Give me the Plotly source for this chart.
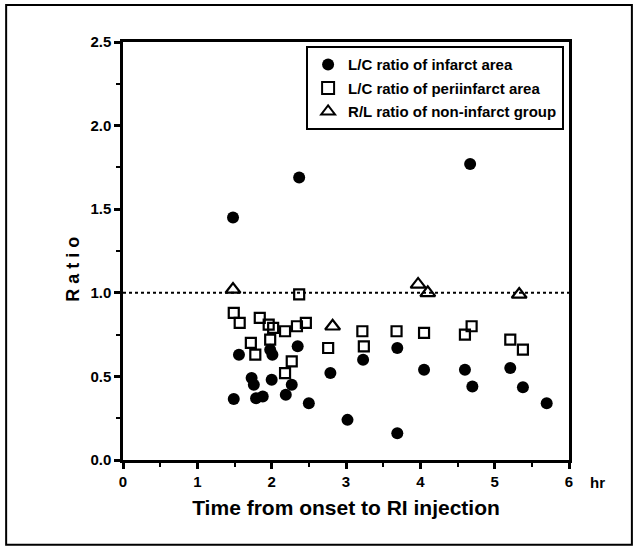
import plotly.graph_objects as go

# Data (hours, ratio)
infarct_x = [1.48, 2.37, 4.67, 1.56, 1.98, 2.01, 2.35, 1.73, 1.76, 2.00, 2.27, 2.79,
             1.49, 1.79, 1.88, 2.19, 2.50, 3.02, 3.23, 3.69, 3.69, 4.05, 4.60, 4.70,
             5.21, 5.38, 5.70]
infarct_y = [1.45, 1.69, 1.77, 0.63, 0.66, 0.63, 0.68, 0.49, 0.45, 0.48, 0.45, 0.52,
             0.365, 0.37, 0.38, 0.39, 0.34, 0.24, 0.60, 0.67, 0.16, 0.54, 0.54, 0.44,
             0.55, 0.435, 0.34]

peri_x = [1.49, 1.57, 1.84, 1.96, 2.02, 2.18, 2.34, 2.46, 1.72, 1.98, 1.78, 2.27,
          2.18, 2.76, 2.37, 3.22, 3.24, 3.68, 4.05, 4.60, 4.69, 5.21, 5.38]
peri_y = [0.88, 0.82, 0.85, 0.81, 0.79, 0.77, 0.80, 0.82, 0.70, 0.72, 0.63, 0.59,
          0.52, 0.67, 0.99, 0.77, 0.68, 0.77, 0.76, 0.75, 0.80, 0.72, 0.66]

noninf_x = [1.48, 2.82, 3.97, 4.10, 5.33]
noninf_y = [1.02, 0.80, 1.05, 1.00, 0.99]

ref_level = 1.0
x_ticks = [0, 1, 2, 3, 4, 5, 6]
y_ticks = [0.0, 0.5, 1.0, 1.5, 2.0, 2.5]

FONT = "Liberation Sans, Arial, sans-serif"

fig = go.Figure()
fig.add_trace(go.Scatter(
    x=infarct_x, y=infarct_y, mode="markers", name="L/C ratio of infarct area",
    legendgroup="a",
    marker=dict(symbol="circle", size=12, color="black"),
))
fig.add_trace(go.Scatter(
    x=peri_x, y=peri_y, mode="markers", name="L/C ratio of periinfarct area",
    legendgroup="b",
    marker=dict(symbol="square-open", size=10, color="black", line=dict(width=2.2, color="black")),
))
fig.add_trace(go.Scatter(
    x=noninf_x, y=noninf_y, mode="markers", name="R/L ratio of non-infarct group",
    legendgroup="c",
    marker=dict(symbol="triangle-up-open", size=13, color="black", line=dict(width=2.2, color="black")),
))

fig.add_shape(type="line", xref="x", yref="y", x0=0, x1=6, y0=ref_level, y1=ref_level,
              line=dict(color="black", width=2, dash="dot"), layer="below")

# outer frame
fig.add_shape(type="rect", xref="paper", yref="paper",
              x0=-0.262, x1=1.141, y0=-0.203, y1=1.0885,
              line=dict(color="black", width=2))

fig.update_layout(
    width=637, height=550,
    margin=dict(l=123, r=68, t=42, b=90),
    paper_bgcolor="white", plot_bgcolor="white",
    font=dict(family=FONT, color="black"),
    showlegend=True,
    legend=dict(
        x=0.989, y=0.99, xanchor="right", yanchor="top",
        bgcolor="white", bordercolor="black", borderwidth=2,
        font=dict(family=FONT, size=15, color="black", weight="bold"),
        itemsizing="constant", tracegroupgap=1,
    ),
    xaxis=dict(
        range=[0, 6], tickvals=x_ticks, ticktext=[str(v) for v in x_ticks],
        showgrid=False, zeroline=False,
        showline=True, linecolor="black", linewidth=2.5, mirror=True,
        ticks="outside", ticklen=6, tickwidth=2.5, tickcolor="black",
        minor=dict(dtick=0.5, ticks="outside", ticklen=4, tickwidth=2, tickcolor="black"),
        tickfont=dict(family=FONT, size=15, color="black", weight="bold"),
        title=dict(text="Time from onset to RI injection",
                   font=dict(family=FONT, size=21, color="black", weight="bold"),
                   standoff=12),
    ),
    yaxis=dict(
        range=[0, 2.5], tickvals=y_ticks, ticktext=[f"{v:.1f}" for v in y_ticks],
        showgrid=False, zeroline=False,
        showline=True, linecolor="black", linewidth=2.5, mirror=True,
        ticks="outside", ticklen=6, tickwidth=2.5, tickcolor="black",
        minor=dict(dtick=0.25, ticks="outside", ticklen=4, tickwidth=2, tickcolor="black"),
        tickfont=dict(family=FONT, size=15, color="black", weight="bold"),
    ),
    annotations=[
        dict(text="R a t i o", xref="paper", yref="paper", x=-0.112, y=0.455,
             textangle=-90, showarrow=False, xanchor="center", yanchor="middle",
             font=dict(family=FONT, size=18, color="black", weight="bold")),
        dict(text="hr", xref="paper", yref="paper", x=1.065, y=-0.053,
             showarrow=False, xanchor="center", yanchor="middle",
             font=dict(family=FONT, size=15, color="black", weight="bold")),
    ],
)

fig.write_html("out.html")
